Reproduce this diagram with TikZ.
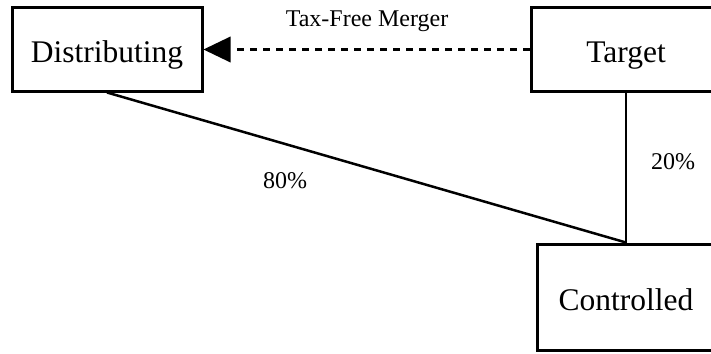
\documentclass[tikz,border=0pt]{standalone}
\usepackage{fontspec}
\setmainfont{Liberation Serif}
\usetikzlibrary{arrows.meta}
\begin{document}
\begin{tikzpicture}[x=1pt,y=-1pt,
  entity/.style={draw,line width=3pt,inner sep=0pt,
    font=\fontsize{31.5}{36}\selectfont,text height=27pt,text depth=0pt},
  link/.style={line width=2.5pt},
  label/.style={font=\fontsize{24}{28}\selectfont,inner sep=0pt,anchor=base}]
  \useasboundingbox (0,0) rectangle (711,353);
  \clip (0,0) rectangle (711,353);
  % entities
  \node[entity,minimum width=190pt,minimum height=83pt] (dist) at (107,49.5) {Distributing};
  \node[entity,minimum width=190pt,minimum height=83pt] (targ) at (626,49.5) {Target};
  \node[entity,minimum width=178pt,minimum height=106pt] (ctrl) at (626,297) {Controlled};
  % ownership lines
  \draw[link] (dist.south) -- (ctrl.north);
  \draw[link] (targ.south) -- (ctrl.north);
  % merger
  \draw[line width=3.2pt,dash pattern=on 7pt off 6pt,
    -{Triangle[length=27pt,width=26pt,line width=0pt]}] (targ.west) -- (dist.east);
  % labels
  \node[label] (merger) at (367,27) {Tax-Free Merger};
  \node[label] (p80) at (285,188) {80\%};
  \node[label] (p20) at (673,169) {20\%};
\end{tikzpicture}
\end{document}
